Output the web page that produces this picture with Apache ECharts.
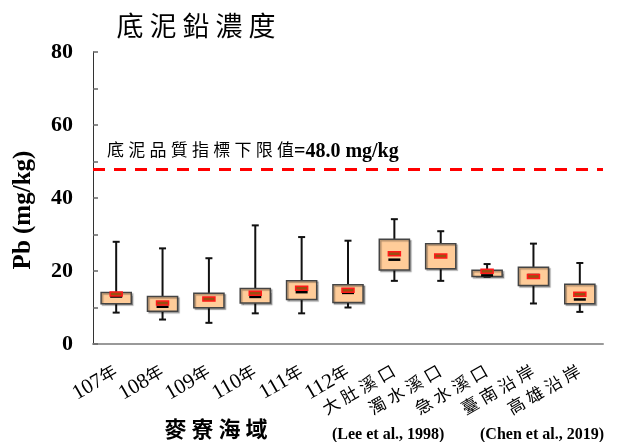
<!DOCTYPE html>
<html><head><meta charset="utf-8">
<script src="https://cdn.jsdelivr.net/npm/echarts@6/dist/echarts.min.js"></script>
<style>html,body{margin:0;padding:0;background:#fff}#c{width:620px;height:442px}</style>
</head><body><div id="c"></div>
<script>
const categories = ['107年','108年','109年','110年','111年','112年','大肚溪口','濁水溪口','急水溪口','臺南沿岸','高雄沿岸'];
const minVals    = [8.6, 6.7, 5.8, 8.4, 8.4, 10.0, 17.3, 17.3, 18.4, 11.1, 8.8];
const q1Vals     = [11.0, 9.0, 9.9, 11.2, 12.2, 11.4, 20.3, 20.6, 18.5, 16.0, 11.0];
const medianVals = [13.0, 10.2, 12.3, 12.9, 14.2, 14.0, 23.1, 24.1, 18.8, 18.9, 12.2];
const q3Vals     = [14.1, 13.0, 13.9, 15.2, 17.3, 16.2, 28.7, 27.5, 20.2, 21.0, 16.4];
const maxVals    = [28.0, 26.2, 23.5, 32.5, 29.3, 28.3, 34.2, 30.9, 21.9, 27.5, 22.2];
const meanVals   = [13.7, 11.2, 12.3, 13.9, 15.3, 14.7, 24.7, 24.1, 19.9, 18.5, 13.6];
const guidelineValue = 48.0;
const yMin = 0, yMax = 80, yInterval = 20;

const SERIF = '"Liberation Serif", "Times New Roman", "Noto Sans CJK TC", serif';
const CJK = '"Noto Sans CJK TC", "Liberation Serif", serif';

const data = categories.map((c, i) => [i, minVals[i], q1Vals[i], medianVals[i], q3Vals[i], maxVals[i], meanVals[i]]);

function renderItem(params, api) {
  const i = api.value(0);
  const pMin = api.coord([i, api.value(1)]);
  const pQ1 = api.coord([i, api.value(2)]);
  const pMed = api.coord([i, api.value(3)]);
  const pQ3 = api.coord([i, api.value(4)]);
  const pMax = api.coord([i, api.value(5)]);
  const pMean = api.coord([i, api.value(6)]);
  const band = api.size([1, 0])[0];
  const bw = band * 0.65, cap = 7, mw = 12;
  const x = pMin[0];
  return {
    type: 'group',
    children: [
      { type: 'line', shape: { x1: x, y1: pMax[1], x2: x, y2: pMin[1] }, style: { stroke: '#111', lineWidth: 2 } },
      { type: 'line', shape: { x1: x - cap / 2, y1: pMax[1], x2: x + cap / 2, y2: pMax[1] }, style: { stroke: '#111', lineWidth: 2 } },
      { type: 'line', shape: { x1: x - cap / 2, y1: pMin[1], x2: x + cap / 2, y2: pMin[1] }, style: { stroke: '#111', lineWidth: 2 } },
      { type: 'rect', shape: { x: x - bw / 2, y: pQ3[1], width: bw, height: pQ1[1] - pQ3[1] },
        style: { fill: '#FFCC99', stroke: '#444', lineWidth: 1.5, shadowColor: 'rgba(0,0,0,0.3)', shadowOffsetX: 1.5, shadowOffsetY: 1.5, shadowBlur: 1 } },
      { type: 'rect', shape: { x: x - mw / 2, y: pMed[1] - 1.25, width: mw, height: 2.5 }, style: { fill: '#000' } },
      { type: 'rect', shape: { x: x - mw / 2, y: pMean[1] - 2, width: mw, height: 4 }, style: { fill: '#9a5010', stroke: '#ff1a1a', lineWidth: 1.5 } }
    ]
  };
}

const chart = echarts.init(document.getElementById('c'), null, { renderer: 'canvas' });
chart.setOption({
  animation: false,
  backgroundColor: '#fff',
  grid: { left: 93, right: 17, top: 52, bottom: 98 },
  xAxis: {
    type: 'category',
    data: categories,
    boundaryGap: true,
    axisLine: { lineStyle: { color: '#999', width: 2 } },
    axisTick: { inside: true, length: 5, lineStyle: { color: '#999', width: 1.5 } },
    axisLabel: {
      rotate: 30, margin: 27, color: '#000',
      formatter: v => {
        const m = /^(\d+)(年)$/.exec(v);
        return m ? '{d|' + m[1] + '}{c|' + m[2] + '}' : '{c|' + v.split('').join(' ') + '}';
      },
      rich: {
        d: { fontSize: 21, fontFamily: SERIF, color: '#000' },
        c: { fontSize: 17, fontFamily: '"Liberation Serif", "Noto Sans CJK TC"', color: '#000' }
      }
    }
  },
  yAxis: {
    type: 'value', min: yMin, max: yMax, interval: yInterval,
    axisLine: { show: true, lineStyle: { color: '#333', width: 1 } },
    axisTick: { show: true, inside: true, length: 5, lineStyle: { color: '#666', width: 1.5 } },
    minorTick: { show: true, splitNumber: 2, length: 5, lineStyle: { color: '#666', width: 1.5 } },
    splitLine: { show: false },
    axisLabel: { fontSize: 22, fontWeight: 'bold', color: '#000', fontFamily: SERIF, margin: 20 }
  },
  series: [{
    type: 'custom',
    renderItem: renderItem,
    data: data,
    encode: { x: 0, y: [1, 2, 3, 4, 5, 6] },
    markLine: {
      silent: true, symbol: 'none',
      label: { show: false },
      lineStyle: { color: '#ff0000', type: [12, 9], width: 3 },
      data: [{ yAxis: guidelineValue }]
    }
  }],
  graphic: [
    { type: 'text', x: 196, y: 26, style: { text: '底 泥 鉛 濃 度', font: '27px ' + CJK, fill: '#000', textAlign: 'center', textVerticalAlign: 'middle' } },
    { type: 'text', x: 24, y: 210, rotation: Math.PI / 2,
      style: { text: 'Pb (mg/kg)', font: 'bold 25px ' + SERIF, fill: '#000', textAlign: 'center', textVerticalAlign: 'middle' } },
    { type: 'text', x: 107, y: 152,
      style: {
        text: '{a|底 泥 品 質 指 標 下 限 值}{b|=' + guidelineValue.toFixed(1) + ' mg/kg}',
        textVerticalAlign: 'middle', textAlign: 'left',
        rich: {
          a: { fontSize: 17, fontFamily: '"Liberation Serif", "Noto Sans CJK TC"', fill: '#000', color: '#000' },
          b: { fontSize: 20, fontWeight: 'bold', fontFamily: SERIF, fill: '#000', color: '#000' }
        }
      } },
    { type: 'text', x: 216, y: 429, style: { text: '麥 寮 海 域', font: 'bold 22px ' + CJK, fill: '#000', textAlign: 'center', textVerticalAlign: 'middle' } },
    { type: 'text', x: 332, y: 435, style: { text: '(Lee et al., 1998)', font: 'bold 16px ' + SERIF, fill: '#000', textAlign: 'left', textVerticalAlign: 'middle' } },
    { type: 'text', x: 480, y: 435, style: { text: '(Chen et al., 2019)', font: 'bold 16px ' + SERIF, fill: '#000', textAlign: 'left', textVerticalAlign: 'middle' } }
  ]
});
</script>
</body></html>
